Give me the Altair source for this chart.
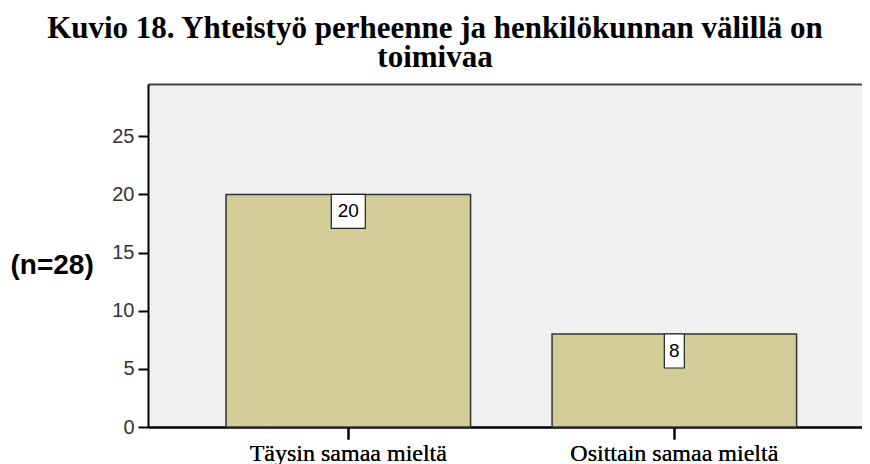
import altair as alt
import pandas as pd

categories = ["Täysin samaa mieltä", "Osittain samaa mieltä"]
values = [20, 8]
labels = ["20", "8"]
title_lines = ["Kuvio 18. Yhteistyö perheenne ja henkilökunnan välillä on", "toimivaa"]
y_title = "(n=28)"
y_ticks = [0, 5, 10, 15, 20, 25]

df = pd.DataFrame({"cat": categories, "value": values, "label": labels})

xscale = alt.Scale(paddingInner=0.25, paddingOuter=0.22, align=0.544)

x = alt.X("cat:N", sort=categories, title=None, scale=xscale,
          axis=alt.Axis(labelAngle=0, labelFont="Liberation Serif", labelFontSize=24,
                        labelColor="#000", labelBaseline="alphabetic", labelPadding=21,
                        labelLimit=0,
                        tickSize=12, tickColor="#000", tickWidth=2,
                        domainColor="#000", domainWidth=2))
x_top = alt.X("cat:N", sort=categories, title=None, scale=xscale,
              axis=alt.Axis(orient="top", labels=False, ticks=False,
                            domainColor="#444", domainWidth=2))
y = alt.Y("value:Q", title=y_title,
          scale=alt.Scale(domain=[0, 29.5], nice=False),
          axis=alt.Axis(values=y_ticks, grid=False, labelFont="Liberation Sans",
                        labelFontSize=20, labelColor="#333", labelPadding=4,
                        tickSize=10, tickColor="#000", tickWidth=2,
                        domainColor="#000", domainWidth=2,
                        titleAngle=0, titleAlign="left", titleBaseline="middle",
                        titleX=-138, titleY=181, titleFont="Liberation Sans",
                        titleFontSize=28, titleFontWeight="bold", titleColor="#000"))

bars = alt.Chart(df).mark_bar(color="#d3ce97", stroke="#333", strokeWidth=1.5).encode(x=x, y=y)

boxes = alt.Chart(df).mark_bar(
    color="#ffffff", stroke="#222", strokeWidth=1.2, y2Offset=34,
    width={"expr": "length(datum.label) > 1 ? 34 : 20"}
).encode(x=x_top, y=y, y2="value:Q")

texts = alt.Chart(df).mark_text(
    font="Liberation Sans", fontSize=19, color="#000", baseline="middle", dy=17
).encode(x=x, y=y, text="label:N")

chart = alt.layer(bars, boxes, texts).resolve_axis(x="independent").properties(
    width=714, height=343,
    autosize=alt.AutoSizeParams(type="none"),
    padding={"left": 140, "top": 76, "right": 0, "bottom": 37},
    title=alt.TitleParams(text=title_lines, font="Liberation Serif", fontSize=31,
                          fontWeight="bold", color="#000", anchor="middle",
                          dx=-70, offset=10, lineHeight=29),
).configure_view(fill="#f0f0f0", stroke=None)

chart.save("out.html", embed_options={"renderer": "svg", "actions": False})
